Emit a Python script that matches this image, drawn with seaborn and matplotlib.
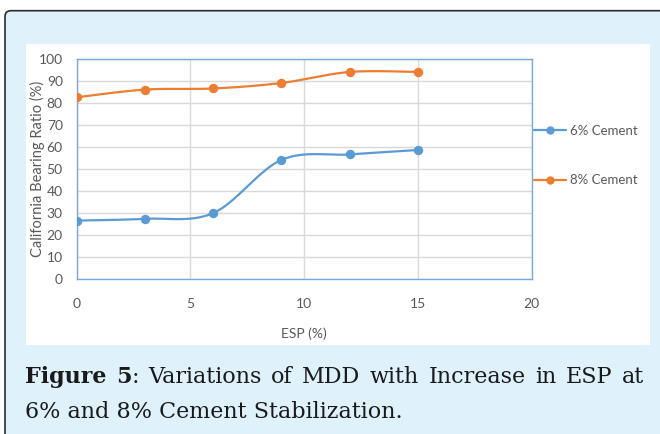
import numpy as np
import pandas as pd
import matplotlib
matplotlib.use("Agg")
import matplotlib.pyplot as plt
from matplotlib.patches import FancyBboxPatch, Rectangle
from matplotlib.lines import Line2D
from matplotlib.transforms import IdentityTransform
import seaborn as sns

# ESP content (%) and California Bearing Ratio (%) for each cement dosage
esp = [0, 3, 6, 9, 12, 15]
cbr_6 = [26.5, 27.3, 29.9, 54.0, 56.5, 58.5]
cbr_8 = [82.4, 85.9, 86.4, 88.9, 93.9, 93.9]
series_names = ["6% Cement", "8% Cement"]
series_colors = ["#5B9BD5", "#ED7D31"]
x_ticks = [0, 5, 10, 15, 20]
y_ticks = list(range(0, 101, 10))

caption_line1 = [("Figure", "bold"), ("5", "bold", ":"), ("Variations", None), ("of", None),
                 ("MDD", None), ("with", None), ("Increase", None), ("in", None),
                 ("ESP", None), ("at", None)]
caption_line2 = "6% and 8% Cement Stabilization."

sns.set_style("white")
plt.rcParams["font.family"] = ["Lato", "DejaVu Sans"]

W, H = 660, 434
fig = plt.figure(figsize=(W / 100, H / 100), dpi=100)
fig.patch.set_facecolor("white")


def smooth(xs, ys, n=40):
    """Excel-style smoothed line: cubic Bezier segments with Catmull-Rom tangents."""
    xs = np.asarray(xs, float)
    ys = np.asarray(ys, float)
    P = np.column_stack([xs, ys])
    Pe = np.vstack([P[0], P, P[-1]])
    out = []
    t = np.linspace(0, 1, n)[:, None]
    for i in range(len(P) - 1):
        p0, p1 = Pe[i + 1], Pe[i + 2]
        c1 = p0 + (Pe[i + 2] - Pe[i]) / 6.0
        c2 = p1 - (Pe[i + 3] - Pe[i + 1]) / 6.0
        seg = ((1 - t) ** 3) * p0 + 3 * ((1 - t) ** 2) * t * c1 + 3 * (1 - t) * t ** 2 * c2 + t ** 3 * p1
        out.append(seg if i == 0 else seg[1:])
    arr = np.vstack(out)
    return arr[:, 0], arr[:, 1]


# page background: light-blue framed box
frame = FancyBboxPatch((5, -60), 800, H - 10.7 + 60,
                       boxstyle="round,pad=0,rounding_size=6",
                       transform=IdentityTransform(), facecolor="#DFF1FB",
                       edgecolor="#2b2b2b", linewidth=1.2, zorder=-10)
fig.add_artist(frame)
panel = Rectangle((26, H - 344.7), 624, 300.7, transform=IdentityTransform(),
                  facecolor="white", edgecolor="none", zorder=-9)
fig.add_artist(panel)

ax = fig.add_axes([76.7 / W, (H - 279) / H, 455 / W, 220.5 / H])
ax.set_facecolor("white")

for vals, name, col in zip([cbr_6, cbr_8], series_names, series_colors):
    sx, sy = smooth(esp, vals)
    curve = pd.DataFrame({"x": sx, "y": sy})
    sns.lineplot(data=curve, x="x", y="y", ax=ax, color=col, linewidth=1.6,
                 sort=False, estimator=None, legend=False, zorder=3)
    pts = pd.DataFrame({"x": esp, "y": vals})
    sns.scatterplot(data=pts, x="x", y="y", ax=ax, color=col, s=46,
                    edgecolor=col, linewidth=0, legend=False, zorder=4)

ax.set_xlim(0, 20)
ax.set_ylim(0, 100)
ax.set_xticks(x_ticks)
ax.set_yticks(y_ticks)
ax.grid(True, color="#D9D9D9", linewidth=1.0, zorder=0)
ax.set_axisbelow(True)
for sp in ax.spines.values():
    sp.set_visible(True)
    sp.set_color("#7BA7D9")
    sp.set_linewidth(1.0)
ax.tick_params(axis="both", length=0, labelsize=10, labelcolor="#595959")
ax.tick_params(axis="x", pad=13.5)
ax.tick_params(axis="y", pad=10)

ax.set_xlabel("ESP (%)", fontsize=10, color="#595959")
ax.xaxis.label.set_va("center")
ax.xaxis.set_label_coords(0.4996, -(334 - 279) / 220.5)
ax.set_ylabel("California Bearing Ratio (%)", fontsize=10.5, color="#595959")
ax.yaxis.label.set_va("center")
ax.yaxis.set_label_coords((37 - 76.7) / 455, 0.5)

handles = [Line2D([0], [0], color=c, lw=1.6, marker="o", markersize=6,
                  markeredgewidth=0) for c in series_colors]
fig.legend(handles, series_names, loc="center left",
           bbox_to_anchor=(534 / W, (H - 155.4) / H), frameon=False,
           fontsize=9.5, labelcolor="#595959", handlelength=2.4,
           handletextpad=0.35, labelspacing=2.85, borderpad=0, borderaxespad=0)

# caption, first line justified between the panel edges
cap_size = 16
cap_font = "DejaVu Serif"
x_left, x_right = 25, 644
base1 = H - 383
base2 = H - 418
renderer = fig.canvas.get_renderer()


def make_text(x, y, s, weight):
    return fig.text(x, y, s, transform=IdentityTransform(), fontsize=cap_size,
                    family=cap_font, fontweight=weight or "normal", color="#1a1a1a",
                    va="baseline", ha="left")


def width_of(s, weight):
    t = make_text(0, -100, s, weight)
    w = t.get_window_extent(renderer).width
    t.remove()
    return w


tokens = []
for tok in caption_line1:
    if len(tok) == 3:
        tokens.append([(tok[0], tok[1]), (tok[2], None)])
    else:
        tokens.append([(tok[0], tok[1])])
widths = [sum(width_of(s, w) for s, w in tok) for tok in tokens]
gap = (x_right - x_left - sum(widths)) / (len(tokens) - 1)
xc = x_left
for tok, wd in zip(tokens, widths):
    xp = xc
    for s, w in tok:
        make_text(xp, base1, s, w)
        xp += width_of(s, w)
    xc += wd + gap
make_text(x_left, base2, caption_line2, None)

fig.savefig("out.png", dpi=100, facecolor=fig.get_facecolor())
